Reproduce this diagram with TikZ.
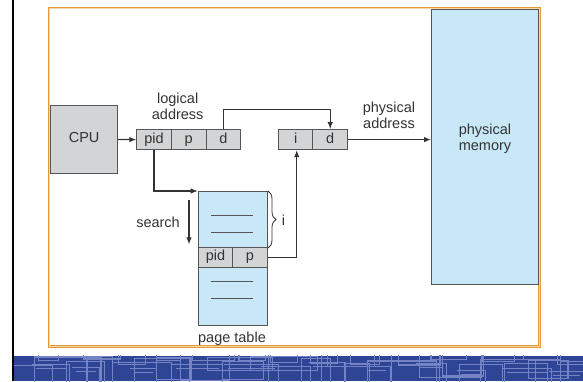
\documentclass[tikz,border=0pt]{standalone}
\usepackage{fontspec}
\setmainfont{Liberation Sans}
\usetikzlibrary{arrows.meta,decorations.pathreplacing,calc}
\definecolor{ink}{HTML}{333333}
\definecolor{edge}{HTML}{555555}
\definecolor{boxgray}{HTML}{D3D4D6}
\definecolor{memblue}{HTML}{C8E8F8}
\definecolor{frameorange}{HTML}{E39A3A}
\definecolor{framelight}{HTML}{F6D7A8}
\definecolor{bandblue}{HTML}{2D4594}
\definecolor{bandline}{HTML}{7483C4}
\begin{document}
\begin{tikzpicture}[x=1pt,y=-1pt,
  font=\fontsize{14.5}{16}\selectfont,
  every node/.style={text=ink},
  cell/.style={draw=edge, fill=boxgray, line width=0.9pt, inner sep=0pt,
    minimum height=20.3pt, text height=10pt, text depth=3pt},
  bluebox/.style={draw=edge, fill=memblue, line width=0.9pt},
  link/.style={draw=ink, line width=1.1pt},
  arr/.style={link, -{Latex[length=7pt,width=5.5pt]}},
  lbl/.style={align=center, inner sep=0pt},
  tick/.style={draw=edge, line width=0.9pt},
  bandrule/.style={draw=bandline, line width=1.1pt}
]
\useasboundingbox (0,0) rectangle (583,381);

% left rule and bottom ornamental band
\fill[black] (12,0) rectangle (14,381);
\fill[bandblue] (14,355.5) rectangle (583,381);
\begin{scope}
  \clip (14,355.5) rectangle (583,381);
  \pgfmathsetseed{23}
  \foreach \i in {0,...,24}{
    \pgfmathsetmacro\xa{10+\i*23.5+rnd*12}
    \pgfmathsetmacro\wd{25+rnd*45}
    \pgfmathsetmacro\ya{350+rnd*16}
    \pgfmathsetmacro\ht{12+rnd*22}
    \draw[bandrule] (\xa,\ya) rectangle ++(\wd,\ht);
  }
  \foreach \i in {0,...,11}{
    \pgfmathsetmacro\xa{20+\i*48+rnd*15}
    \pgfmathsetmacro\wd{25+rnd*30}
    \pgfmathsetmacro\ya{362+rnd*10}
    \draw[bandrule] (\xa,\ya) -- ++(\wd,0) -- ++(0,20);
    \draw[bandrule] (\xa+4,\ya+4) -- ++(\wd-8,0);
  }
  \foreach \i in {0,...,13}{
    \pgfmathsetmacro\xa{30+\i*40+rnd*14}
    \pgfmathsetmacro\wd{18+rnd*26}
    \pgfmathsetmacro\yb{359+rnd*6}
    \draw[bandrule] (\xa,350) -- (\xa,\yb) -- ++(\wd,0) -- ++(0,-12);
  }
\end{scope}

% orange double frame
\draw[frameorange, line width=2.4pt] (49.2,8) rectangle (539.4,346.3);
\draw[framelight, line width=0.6pt] (49.2,8) rectangle (539.4,346.3);

% physical memory
\node[bluebox, minimum width=107.3pt, minimum height=274.7pt, inner sep=0pt,
      anchor=north west, lbl] (mem) at (431,9.3) {};
\node[lbl] (memlbl) at (485,139) {physical\\memory};

% CPU
\node[cell, minimum width=67.3pt, minimum height=67.4pt, anchor=north west] (cpu) at (50,105.3) {CPU};

% logical address
\node[cell, minimum width=34.4pt, anchor=north west] (lpid) at (136.3,129) {pid};
\node[cell, minimum width=35pt, anchor=north west] (lp) at (170.7,129) {p};
\node[cell, minimum width=34.6pt, anchor=north west] (ld) at (205.7,129) {d};
\node[lbl] (loglbl) at (177.7,106) {logical\\address};

% physical address
\node[cell, minimum width=34pt, anchor=north west] (pi) at (278.3,129) {i};
\node[cell, minimum width=35pt, anchor=north west] (pd) at (312.3,129) {d};
\node[lbl] (physlbl) at (389,115) {physical\\address};

% page table
\node[bluebox, minimum width=69pt, minimum height=134pt, inner sep=0pt, anchor=north west] (ptab) at (197.7,191) {};
\node[cell, minimum width=34.6pt, minimum height=20pt, anchor=north west] (tpid) at (197.7,246.7) {pid};
\node[cell, minimum width=34.4pt, minimum height=20pt, anchor=north west] (tp) at (232.3,246.7) {p};
\draw[tick] (211,215) -- (253.3,215);
\draw[tick] (211,232.7) -- (253.3,232.7);
\draw[tick] (211,281) -- (253.3,281);
\draw[tick] (211,298.3) -- (253.3,298.3);
\node[lbl] (ptlbl) at (232,339) {page table};

% connectors
\draw[arr] (cpu.east) -- (lpid.west);
\draw[arr] (lpid.south) |- (ptab.north west);
\coordinate (bend) at (222.3,109.7);
\draw[arr] (ld.north) -- (ld.north |- bend) -| (pd.north);
\draw[arr] (pd.east) -- (pd.east -| mem.west);
\draw[arr] (tp.east) -| ($(pi.south)+(1,0)$);

% search direction
\coordinate (s1) at (189,200);
\coordinate (s2) at (189,244.3);
\draw[arr] (s1) -- (s2);
\node[lbl, anchor=east] (srch) at (180,222) {search};

% brace over the searched entries
\coordinate (b1) at (268,191);
\coordinate (b2) at (268,248);
\draw[draw=ink, line width=0.8pt, decorate, decoration={brace, amplitude=8pt}] (b1) -- (b2);
\node[lbl] (ilbl) at (283.5,220) {i};
\end{tikzpicture}
\end{document}
